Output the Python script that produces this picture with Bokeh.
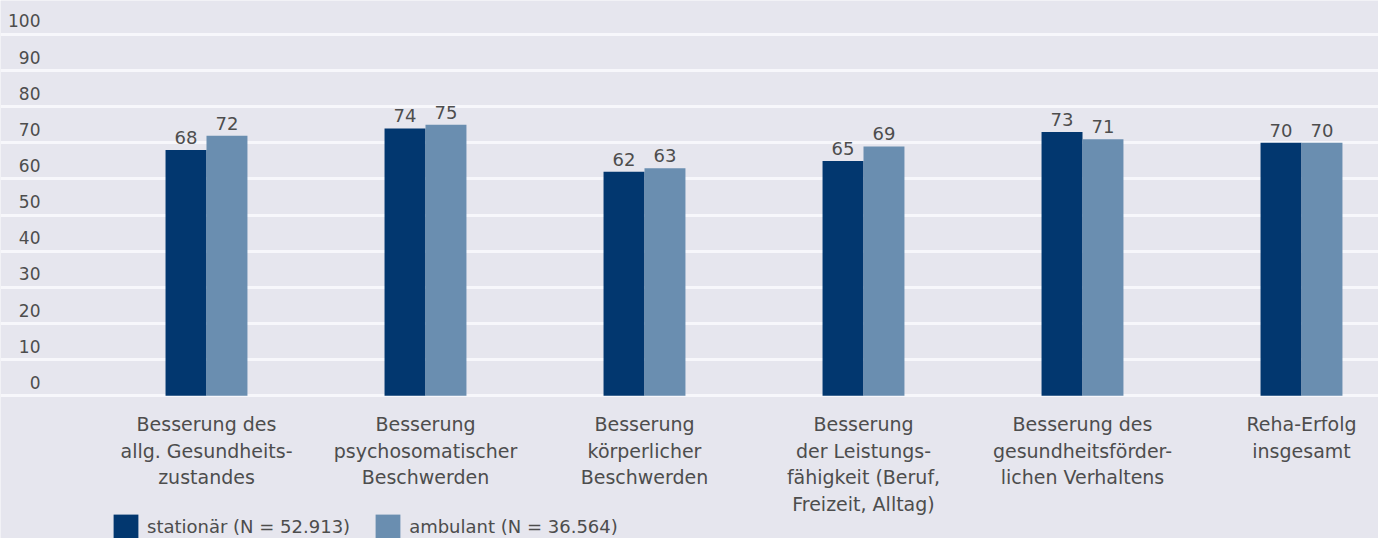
from bokeh.plotting import figure
from bokeh.models import ColumnDataSource, Range1d, Grid, FixedTicker, Legend, LegendItem
from bokeh.core.properties import value
from bokeh.embed import file_html
from bokeh.resources import INLINE

# ---- data ----
categories = [
    "Besserung des\nallg. Gesundheits-\nzustandes",
    "Besserung\npsychosomatischer\nBeschwerden",
    "Besserung\nkörperlicher\nBeschwerden",
    "Besserung\nder Leistungs-\nfähigkeit (Beruf,\nFreizeit, Alltag)",
    "Besserung des\ngesundheitsförder-\nlichen Verhaltens",
    "Reha-Erfolg\ninsgesamt",
]
stationaer = [68, 74, 62, 65, 73, 70]
ambulant = [72, 75, 63, 69, 71, 70]
series_names = ["stationär (N = 52.913)", "ambulant (N = 36.564)"]
y_ticks = [0, 10, 20, 30, 40, 50, 60, 70, 80, 90, 100]

# ---- style ----
BG = "#e6e6ee"
DARK = "#02376f"
LIGHT = "#6a8eb0"
TXT = "#4d4d4d"
FONT = "DejaVu Sans"

W, H = 1378, 538
idx = list(range(len(categories)))
bw = 0.187

p = figure(width=W, height=H, output_backend="svg", toolbar_location=None,
           x_range=Range1d(-0.9406, 5.3516), y_range=Range1d(-39.5, 109.4),
           min_border=0, outline_line_color=None,
           background_fill_color=BG, border_fill_color=BG)
p.axis.visible = False
p.xgrid.visible = False
p.ygrid.visible = False

grid = Grid(dimension=1, ticker=FixedTicker(ticks=y_ticks),
            grid_line_color="#f7f7fb", grid_line_width=3)
p.add_layout(grid)

src = ColumnDataSource(dict(
    x=idx, xs=[i - bw / 2 for i in idx], xa=[i + bw / 2 for i in idx],
    s=stationaer, a=ambulant,
    sl=[str(v) for v in stationaer], al=[str(v) for v in ambulant],
    cat=categories, y0=[0] * len(idx),
))

r1 = p.vbar(x="xs", top="s", width=bw, source=src, fill_color=DARK, line_color=None)
r2 = p.vbar(x="xa", top="a", width=bw, source=src, fill_color=LIGHT, line_color=None)

# value labels
for xcol, ycol, tcol in [("xs", "s", "sl"), ("xa", "a", "al")]:
    p.text(x=xcol, y=ycol, text=tcol, source=src, text_align="center",
           text_baseline="bottom", y_offset=-6, text_font=value(FONT),
           text_font_size="18px", text_color=TXT)

# category labels
p.text(x="x", y="y0", text="cat", source=src, text_align="center",
       text_baseline="top", y_offset=17, text_font=value(FONT),
       text_font_size="19px", text_color=TXT, text_line_height=1.22)

# y tick labels (placed above their gridlines)
tsrc = ColumnDataSource(dict(y=y_ticks, x=[-0.9406] * len(y_ticks),
                             t=[str(v) for v in y_ticks]))
p.text(x="x", y="y", text="t", source=tsrc, text_align="right",
       text_baseline="bottom", x_offset=40, y_offset=-7, text_font=value(FONT),
       text_font_size="17px", text_color=TXT)

legend = Legend(items=[LegendItem(label=series_names[0], renderers=[r1]),
                       LegendItem(label=series_names[1], renderers=[r2])],
                orientation="horizontal", location=(110, -4),
                glyph_width=31, glyph_height=31, label_standoff=6, spacing=22,
                padding=0, margin=0, background_fill_alpha=0, border_line_alpha=0,
                label_text_font=FONT, label_text_font_size="18px",
                label_text_color=TXT)
p.add_layout(legend)

open("out.html", "w").write(file_html(p, INLINE))
